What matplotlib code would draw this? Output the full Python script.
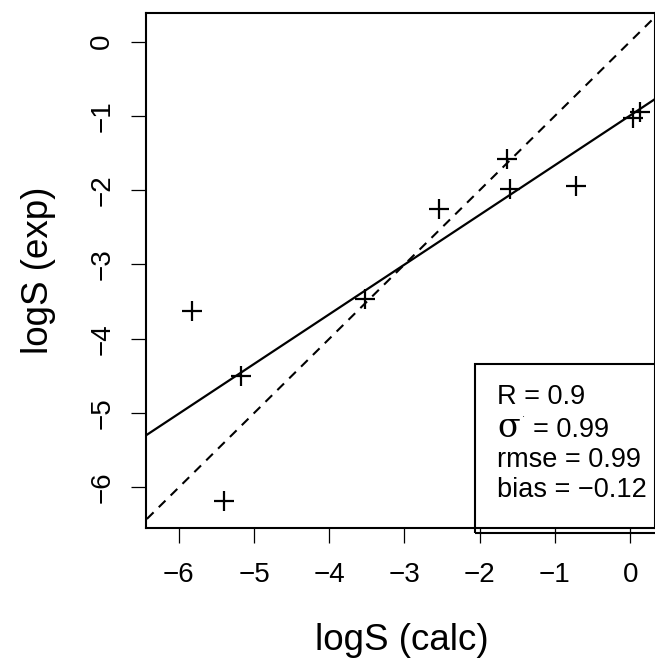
import numpy as np
import matplotlib
matplotlib.use('Agg')
import matplotlib.pyplot as plt
from matplotlib.patches import Rectangle

plt.rcParams['font.family'] = ['Liberation Sans', 'DejaVu Sans']

logS_calc = [-5.82, -5.17, -5.40, -3.52, -2.54, -1.64, -1.60, -0.72, 0.035, 0.13]
logS_exp = [-3.62, -4.50, -6.18, -3.46, -2.25, -1.58, -1.99, -1.94, -1.03, -0.95]
stats_text = ['R = 0.9', '= 0.99', 'rmse = 0.99', 'bias = \u22120.12']
ticks = [-6, -5, -4, -3, -2, -1, 0]

W, H = 655, 658
fig = plt.figure(figsize=(W / 100, H / 100), dpi=100)
left, right, top, bottom = 145.7, 655, 13.3, 528.3
ax = fig.add_axes([left / W, 1 - bottom / H, (right - left) / W, (bottom - top) / H])

x = np.array(logS_calc)
y = np.array(logS_exp)
ax.plot(x, y, '+', color='black', markersize=14, markeredgewidth=1.6)

ax.set_xlim(-6.44, 0.33)
ax.set_ylim(-6.55, 0.38)

# identity line
xx = np.array([-8, 2])
ax.plot(xx, xx, color='black', lw=1.5, dashes=(4.5, 3.5))
# least squares fit
slope, icpt = np.polyfit(x, y, 1)
ax.plot(xx, slope * xx + icpt, color='black', lw=1.6)

ax.set_xticks(ticks)
ax.set_yticks(ticks)
ax.tick_params(axis='both', length=11, width=0.9, labelsize=20, direction='out')
ax.tick_params(axis='x', pad=13)
ax.tick_params(axis='y', pad=11, labelrotation=90)
for lab in ax.get_yticklabels():
    lab.set_va('center')
for s in ax.spines.values():
    s.set_linewidth(1.5)

fig.text(402 / W, 1 - 640 / H, 'logS (calc)', ha='center', va='center', fontsize=26.5)
fig.text(38 / W, 1 - 270.8 / H, 'logS (exp)', ha='center', va='center',
         fontsize=26.5, rotation=90)

# stats box
ax.add_patch(Rectangle((0.6466, -0.01), 0.5, 0.329, transform=ax.transAxes,
                       fill=False, lw=1.5, edgecolor='black', clip_on=False))
ys = [0.2556, 0.191, 0.1327, 0.0744]
xs = [0.69, 0.7605, 0.69, 0.69]
for t, xt, yt in zip(stats_text, xs, ys):
    ax.text(xt, yt, t, transform=ax.transAxes, ha='left', va='center', fontsize=19.5)
ax.text(0.69, 0.195, '\u03c3', transform=ax.transAxes, ha='left', va='center',
        fontsize=24, family='DejaVu Serif')
ax.text(0.739, 0.215, '\u00b7', transform=ax.transAxes, ha='left', va='center', fontsize=7)

fig.savefig('out.png', dpi=100)
